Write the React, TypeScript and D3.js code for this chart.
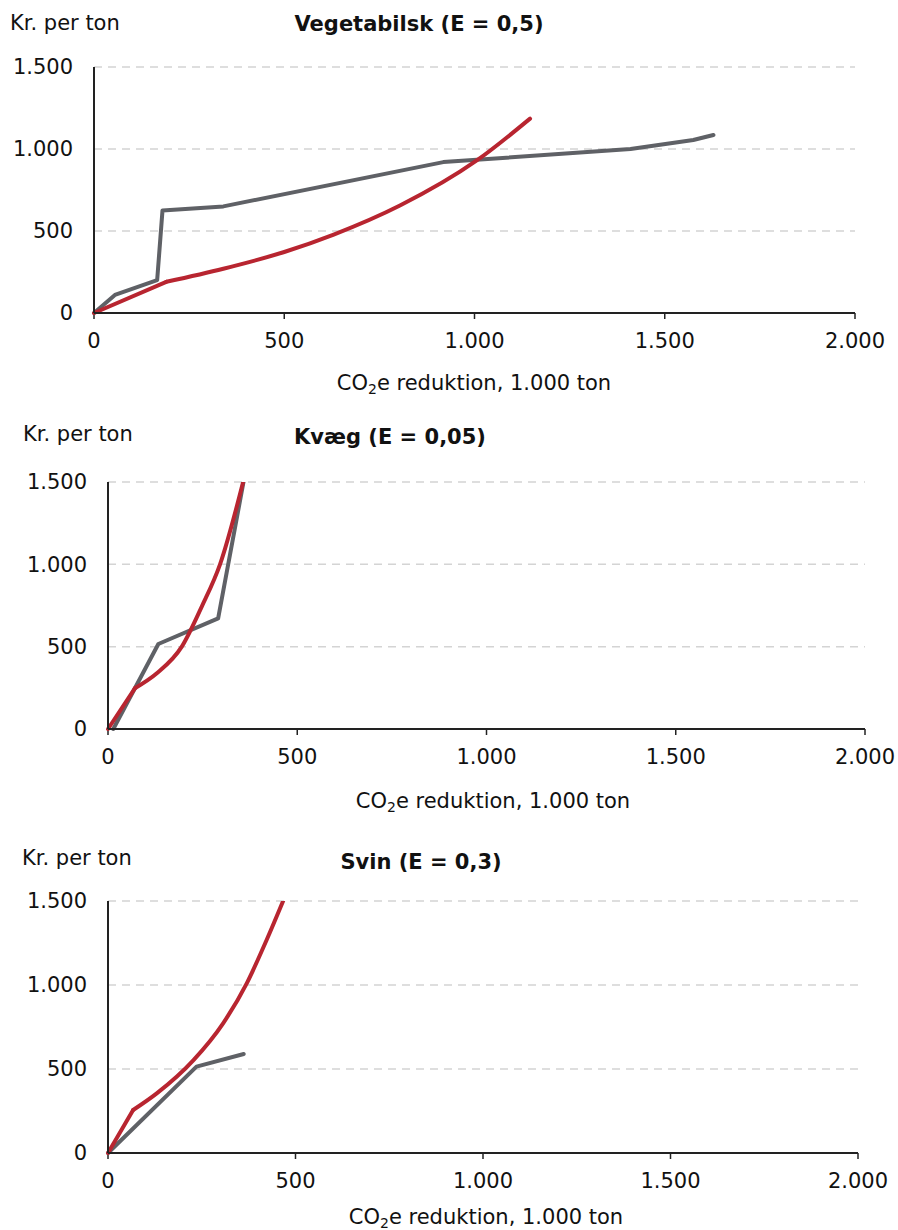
import React, { useEffect, useRef } from "react";
import * as d3 from "d3";

type Pt = [number, number];

// Tick values shared by all three panels
const xTicks = [0, 500, 1000, 1500, 2000];
const yTicks = [0, 500, 1000, 1500];

const titles = ["Vegetabilsk (E = 0,5)", "Kvæg (E = 0,05)", "Svin (E = 0,3)"];

// Vegetabilsk
const vegGray: Pt[] = [
  [0, 0], [55, 110], [166, 200], [180, 625], [340, 650],
  [918, 920], [1410, 1000], [1575, 1055], [1628, 1085],
];
const vegRed: Pt[] = [
  [0, 0], [190, 190], [340, 270], [500, 372], [630, 478],
  [804, 655], [1006, 930], [1146, 1185],
];

// Kvæg
const kvaegGray: Pt[] = [[14, 0], [133, 516], [291, 672], [358, 1500]];
const kvaegRed: Pt[] = [
  [0, 0], [71, 247], [129, 338], [195, 500], [248, 745],
  [296, 1000], [357, 1500],
];

// Svin
const svinGray: Pt[] = [[0, 0], [236, 514], [362, 589]];
const svinRed: Pt[] = [
  [0, 0], [67, 256], [130, 355], [228, 553], [307, 772],
  [370, 1010], [423, 1268], [467, 1500],
];

const grayData = [vegGray, kvaegGray, svinGray];
const redData = [vegRed, kvaegRed, svinRed];

const fmt = (v: number) => d3.format(",")(v).replace(/,/g, ".");

const App: React.FC = () => {
  const ref = useRef<HTMLDivElement>(null);

  useEffect(() => {
    const width = 898;
    const height = 1230;
    const font = "DejaVu Sans, Verdana, sans-serif";
    const fs = 21;

    // layout per panel
    const panels = [
      { left: 94, right: 855, top: 67, bottom: 313, unitX: 10, unitY: 23, titleX: 419, titleY: 24, tickY: 341, axisTitleX: 474, axisTitleY: 383 },
      { left: 108, right: 865, top: 482, bottom: 729, unitX: 23, unitY: 434, titleX: 390, titleY: 437, tickY: 757, axisTitleX: 493, axisTitleY: 801 },
      { left: 108, right: 858, top: 901, bottom: 1153, unitX: 22, unitY: 858, titleX: 421, titleY: 862, tickY: 1181, axisTitleX: 486, axisTitleY: 1217 },
    ];

    const svg = d3
      .select(ref.current)
      .append("svg")
      .attr("width", width)
      .attr("height", height)
      .style("font-family", font);

    panels.forEach((p, i) => {
      const x = d3.scaleLinear().domain([0, 2000]).range([p.left, p.right]);
      const y = d3.scaleLinear().domain([0, 1500]).range([p.bottom, p.top]);
      const g = svg.append("g");

      // gridlines
      g.selectAll("line.grid")
        .data(yTicks.filter((d) => d > 0))
        .join("line")
        .attr("x1", p.left)
        .attr("x2", p.right)
        .attr("y1", (d) => y(d))
        .attr("y2", (d) => y(d))
        .attr("stroke", "#d4d4d4")
        .attr("stroke-width", 1.5)
        .attr("stroke-dasharray", "8 6");

      // y labels
      g.selectAll("text.ylab")
        .data(yTicks)
        .join("text")
        .attr("x", p.left - 21)
        .attr("y", (d) => y(d))
        .attr("dy", "0.35em")
        .attr("text-anchor", "end")
        .attr("font-size", fs)
        .attr("fill", "#111")
        .text((d) => fmt(d));

      // x labels
      g.selectAll("text.xlab")
        .data(xTicks)
        .join("text")
        .attr("x", (d) => x(d))
        .attr("y", p.tickY)
        .attr("dy", "0.35em")
        .attr("text-anchor", "middle")
        .attr("font-size", fs)
        .attr("fill", "#111")
        .text((d) => fmt(d));

      // x tick marks
      g.selectAll("line.xtick")
        .data(xTicks)
        .join("line")
        .attr("x1", (d) => x(d))
        .attr("x2", (d) => x(d))
        .attr("y1", p.bottom)
        .attr("y2", p.bottom + 6)
        .attr("stroke", "#222")
        .attr("stroke-width", 1.5);

      const clipId = `clip-${i}`;
      svg
        .append("clipPath")
        .attr("id", clipId)
        .append("rect")
        .attr("x", p.left - 5)
        .attr("y", p.top)
        .attr("width", p.right - p.left + 10)
        .attr("height", p.bottom - p.top + 5);

      const line = d3
        .line<Pt>()
        .x((d) => x(d[0]))
        .y((d) => y(d[1]));

      const stroke = (sel: d3.Selection<SVGPathElement, Pt[], null, undefined>, color: string) =>
        sel
          .attr("clip-path", `url(#${clipId})`)
          .attr("fill", "none")
          .attr("stroke", color)
          .attr("stroke-width", 4)
          .attr("stroke-linecap", "round")
          .attr("stroke-linejoin", "round");

      stroke(g.append("path").datum(grayData[i]), "#5f6166")
        .attr("d", line.curve(d3.curveLinear)(grayData[i]));

      // red: straight first leg, then a smooth curve
      const red = redData[i];
      stroke(g.append("path").datum(red.slice(0, 2)), "#b82530")
        .attr("d", line.curve(d3.curveLinear)(red.slice(0, 2)));
      stroke(g.append("path").datum(red.slice(1)), "#b82530")
        .attr("d", line.curve(d3.curveMonotoneX)(red.slice(1)));

      // axes
      g.append("line")
        .attr("x1", p.left)
        .attr("x2", p.left)
        .attr("y1", p.top)
        .attr("y2", p.bottom)
        .attr("stroke", "#222")
        .attr("stroke-width", 2);
      g.append("line")
        .attr("x1", p.left)
        .attr("x2", p.right)
        .attr("y1", p.bottom)
        .attr("y2", p.bottom)
        .attr("stroke", "#222")
        .attr("stroke-width", 2);

      // texts
      g.append("text")
        .attr("x", p.unitX)
        .attr("y", p.unitY)
        .attr("dy", "0.35em")
        .attr("font-size", fs)
        .attr("fill", "#111")
        .text("Kr. per ton");

      g.append("text")
        .attr("x", p.titleX)
        .attr("y", p.titleY)
        .attr("dy", "0.35em")
        .attr("text-anchor", "middle")
        .attr("font-size", fs)
        .attr("font-weight", "bold")
        .attr("fill", "#111")
        .text(titles[i]);

      const at = g
        .append("text")
        .attr("x", p.axisTitleX)
        .attr("y", p.axisTitleY)
        .attr("dy", "0.35em")
        .attr("text-anchor", "middle")
        .attr("font-size", fs)
        .attr("fill", "#111");
      at.append("tspan").text("CO");
      at.append("tspan").attr("font-size", 14).attr("dy", 4).text("2");
      at.append("tspan").attr("dy", -4).text("e reduktion, 1.000 ton");
    });

    return () => {
      d3.select(ref.current).select("svg").remove();
    };
  }, []);

  return <div ref={ref} style={{ position: "absolute", left: 0, top: 0 }}></div>;
};

export default App;
